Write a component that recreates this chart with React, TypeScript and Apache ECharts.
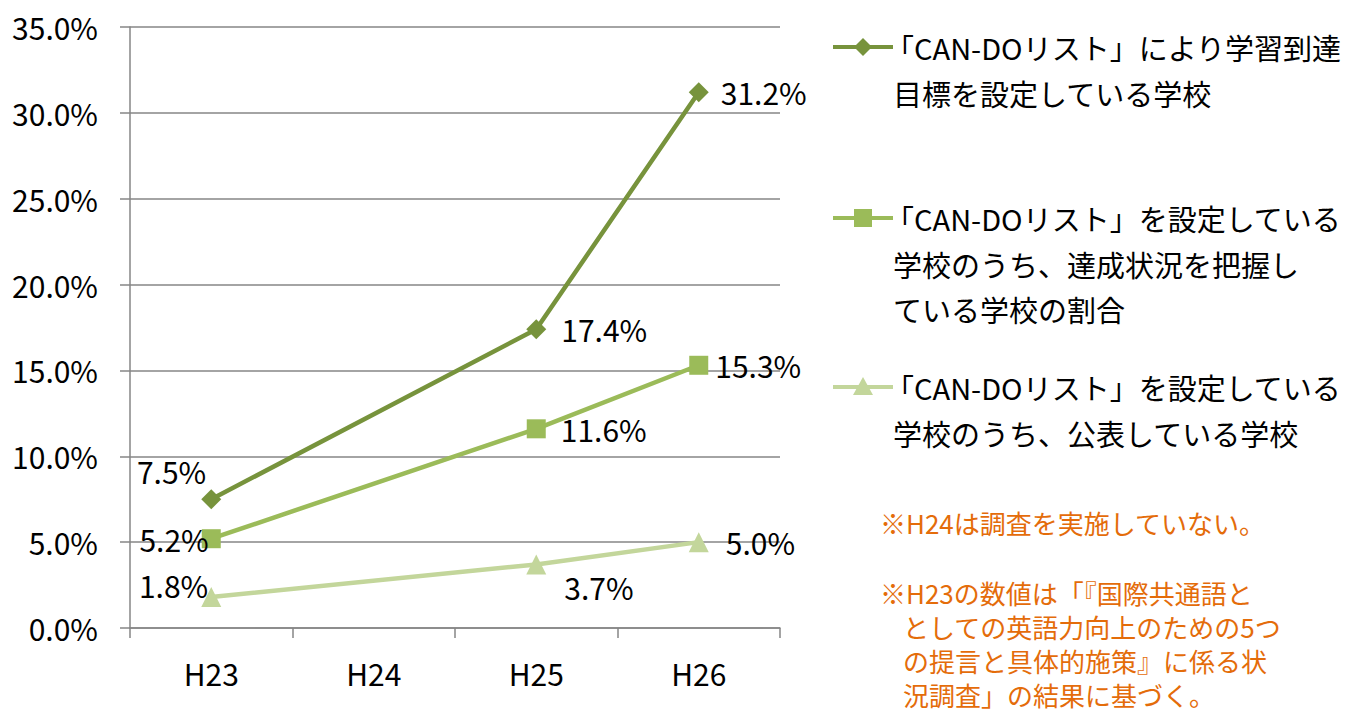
import React, { useEffect, useRef } from "react";
import * as echarts from "echarts";

const categories = ["H23", "H24", "H25", "H26"];
const goalSet = [7.5, null, 17.4, 31.2];
const graspAchieve = [5.2, null, 11.6, 15.3];
const published = [1.8, null, 3.7, 5.0];
const seriesNames = [
  "「CAN-DOリスト」により学習到達\n目標を設定している学校",
  "「CAN-DOリスト」を設定している\n学校のうち、達成状況を把握し\nている学校の割合",
  "「CAN-DOリスト」を設定している\n学校のうち、公表している学校",
];
const note1 = "※H24は調査を実施していない。";
const note2Lines = [
  "※H23の数値は「『国際共通語と",
  "としての英語力向上のための5つ",
  "の提言と具体的施策』に係る状",
  "況調査」の結果に基づく。",
];

const C1 = "#77933C";
const C2 = "#9BBB59";
const C3 = "#C3D69B";
const ORANGE = "#E46C0A";
const FONT = "'Noto Sans CJK JP', 'Noto Sans', sans-serif";
const NUM_SIZE = 30;

function lbl(position: string, distance: number, offset: number[] = [0, 0]) {
  return { label: { show: true, position, distance, offset } };
}

export default function App() {
  const ref = useRef<HTMLDivElement>(null);
  useEffect(() => {
    const chart = echarts.init(ref.current!, null, { renderer: "svg" });
    const labelBase = {
      show: true,
      color: "#000",
      fontSize: NUM_SIZE,
      fontFamily: FONT,
      formatter: (p: any) => p.value.toFixed(1) + "%",
    };
    const s1Labels = [lbl("left", 5, [10, -28]), {}, lbl("right", 15), lbl("right", 12)];
    const s2Labels = [lbl("left", 3, [10, 0]), {}, lbl("right", 15), lbl("right", 7)];
    const s3Labels = [lbl("left", 3, [10, -12]), {}, lbl("right", 18, [0, 23]), lbl("right", 17)];
    const mk = (vals: (number | null)[], extra: any[]) =>
      vals.map((v, i) => (v === null ? null : { value: v, ...extra[i] }));

    const legendItems = [
      { y: 47, color: C1, symbol: "diamond" },
      { y: 218, color: C2, symbol: "rect" },
      { y: 387, color: C3, symbol: "triangle" },
    ];
    const graphics: any[] = [];
    legendItems.forEach((it, idx) => {
      graphics.push({
        type: "line",
        shape: { x1: 833, y1: it.y, x2: 893, y2: it.y },
        style: { stroke: it.color, lineWidth: 4 },
      });
      const cx = 863;
      if (it.symbol === "diamond") {
        graphics.push({
          type: "polygon",
          shape: { points: [[cx, it.y - 9], [cx + 9, it.y], [cx, it.y + 9], [cx - 9, it.y]] },
          style: { fill: it.color },
        });
      } else if (it.symbol === "rect") {
        graphics.push({
          type: "rect",
          shape: { x: cx - 9, y: it.y - 9, width: 18, height: 18 },
          style: { fill: it.color },
        });
      } else {
        graphics.push({
          type: "polygon",
          shape: { points: [[cx, it.y - 10], [cx + 10, it.y + 8], [cx - 10, it.y + 8]] },
          style: { fill: it.color },
        });
      }
      const lines = seriesNames[idx].split("\n");
      lines.forEach((t, li) => {
        graphics.push({
          type: "text",
          x: t.startsWith("「") ? 885 : 893,
          y: it.y + li * 45.5,
          style: {
            text: t,
            fill: "#000",
            font: `29px ${FONT}`,
            lineHeight: 40,
            verticalAlign: "middle",
            align: "left",
          },
        });
      });
    });
    graphics.push({
      type: "text",
      x: 880,
      y: 522,
      style: { text: note1, fill: ORANGE, font: `26px ${FONT}`, lineHeight: 30, verticalAlign: "middle" },
    });
    note2Lines.forEach((t, i) => {
      graphics.push({
        type: "text",
        x: i === 0 ? 880 : 903,
        y: 592 + i * 34,
        style: { text: t, fill: ORANGE, font: `26px ${FONT}`, lineHeight: 30, verticalAlign: "middle" },
      });
    });

    chart.setOption({
      animation: false,
      grid: { left: 130, right: 577, top: 27, bottom: 84, containLabel: false },
      xAxis: {
        type: "category",
        data: categories,
        boundaryGap: true,
        axisLine: { lineStyle: { color: "#868686", width: 1.5 } },
        axisTick: { show: true, length: 10, lineStyle: { color: "#868686", width: 1.5 } },
        axisLabel: { color: "#000", fontSize: NUM_SIZE, fontFamily: FONT, margin: 30 },
      },
      yAxis: {
        type: "value",
        min: 0,
        max: 35,
        interval: 5,
        axisLine: { show: true, lineStyle: { color: "#868686", width: 1.5 } },
        axisTick: { show: true, length: 10, lineStyle: { color: "#868686", width: 1.5 } },
        axisLabel: {
          color: "#000",
          fontSize: NUM_SIZE,
          fontFamily: FONT,
          margin: 32,
          formatter: (v: number) => v.toFixed(1) + "%",
        },
        splitLine: { lineStyle: { color: "#868686", width: 1.5 } },
      },
      series: [
        {
          name: seriesNames[0],
          type: "line",
          data: mk(goalSet, s1Labels),
          connectNulls: true,
          symbol: "diamond",
          symbolSize: 20,
          lineStyle: { color: C1, width: 4.5 },
          itemStyle: { color: C1 },
          label: labelBase,
          z: 3,
        },
        {
          name: seriesNames[1],
          type: "line",
          data: mk(graspAchieve, s2Labels),
          connectNulls: true,
          symbol: "rect",
          symbolSize: 19,
          lineStyle: { color: C2, width: 4.5 },
          itemStyle: { color: C2 },
          label: labelBase,
          z: 3,
        },
        {
          name: seriesNames[2],
          type: "line",
          data: mk(published, s3Labels),
          connectNulls: true,
          symbol: "triangle",
          symbolSize: 20,
          lineStyle: { color: C3, width: 4.5 },
          itemStyle: { color: C3 },
          label: labelBase,
          z: 3,
        },
      ],
      graphic: graphics,
    });
    return () => chart.dispose();
  }, []);
  return <div ref={ref} style={{ width: 1357, height: 712, position: "absolute", left: 0, top: 0 }} />;
}
